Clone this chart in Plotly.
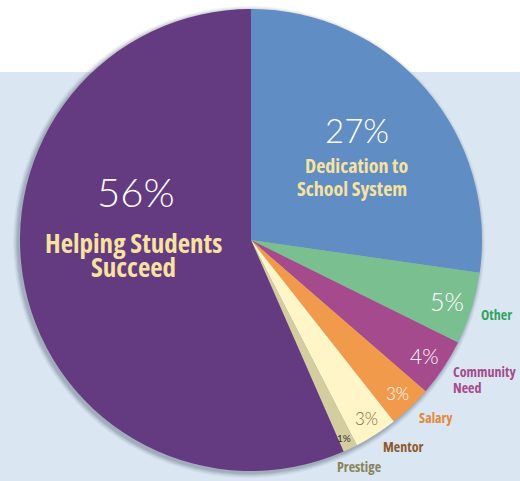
import plotly.graph_objects as go

# Reasons for teaching, share of respondents (%)
categories = ["Dedication to School System", "Other", "Community Need", "Salary",
              "Mentor", "Prestige", "Helping Students Succeed"]
values = [27, 5, 4, 3, 3, 1, 56]
pct_labels = ["27%", "5%", "4%", "3%", "3%", "1%", "56%"]
name_labels = ["Dedication to<br>School System", "Other", "Community<br>Need", "Salary",
               "Mentor", "Prestige", "Helping Students<br>Succeed"]

slice_colors = ["#5f8dc4", "#7abf90", "#a54a8c", "#f29a4b", "#fff5c6", "#d3cd9f", "#643a81"]

W, H = 520, 481
CX, CY, R = 251, 240, 231  # pie centre and radius in pixels


def fx(px):
    return px / W


def fy(py):
    return 1 - py / H


PCT_FONT = "Lato, 'Open Sans', sans-serif"
NAME_FONT = "'Open Sans', 'DejaVu Sans', sans-serif"

fig = go.Figure(go.Pie(
    labels=categories,
    values=values,
    sort=False,
    direction="clockwise",
    rotation=0,
    textinfo="none",
    hoverinfo="label+percent",
    marker=dict(colors=slice_colors, line=dict(width=0)),
    domain=dict(x=[fx(CX - R), fx(CX + R)], y=[fy(CY + R), fy(CY - R)]),
    showlegend=False,
))

shapes = [
    # pale blue panel behind the lower part of the chart
    dict(type="rect", xref="paper", yref="paper", x0=0, x1=1, y0=0, y1=fy(72),
         fillcolor="#dbe6f3", line=dict(width=0), layer="below"),
]
# soft drop shadow under the pie, offset down and to the left
for k, op in [(5, 0.05), (4, 0.06), (3, 0.08), (2, 0.1), (1, 0.12)]:
    ox, oy = -2, 2
    shapes.append(dict(type="circle", xref="paper", yref="paper",
                       x0=fx(CX + ox - R - k), x1=fx(CX + ox + R + k),
                       y0=fy(CY + oy + R + k), y1=fy(CY + oy - R - k),
                       fillcolor=f"rgba(60,70,90,{op})", line=dict(width=0), layer="below"))

annotations = []


def add(text, px, py, size, color, family, weight=None, xanchor="center", narrow=False):
    font = dict(size=size, color=color, family=family)
    if weight is not None:
        font["weight"] = weight
    if narrow:
        text = f"<span style='font-stretch:condensed'>{text}</span>"
    annotations.append(dict(text=text, x=fx(px), y=fy(py), xref="paper", yref="paper",
                            showarrow=False, xanchor=xanchor, yanchor="middle", font=font))


def add_name(idx, px_list, py_list, size, color):
    # one left-anchored annotation per line
    for line, px, py in zip(name_labels[idx].split("<br>"), px_list, py_list):
        add(line, px - 2, py, size, color, NAME_FONT, 700, xanchor="left", narrow=True)


# percentage figures
add(pct_labels[0], 357, 130, 33, "white", PCT_FONT, 300)
add(pct_labels[6], 136, 192, 40, "white", PCT_FONT, 300)
add(pct_labels[1], 447, 301, 25, "white", PCT_FONT, 300)
add(pct_labels[2], 424, 355, 21, "white", PCT_FONT, 300)
add(pct_labels[3], 397, 393, 17, "white", PCT_FONT, 300)
add(pct_labels[4], 366, 418, 17, "#8a6a45", PCT_FONT, 300)
add(pct_labels[5], 344, 438, 10, "#333333", PCT_FONT, 400)

# category names
add_name(0, [305, 297], [165.5, 188.5], 20, "#f7e2a0")
add_name(6, [45, 91], [242, 266], 27, "#f7e2a0")
add_name(1, [481], [314], 14, "#2ea55d")
add_name(2, [453, 453], [371, 387], 14, "#a54a8c")
add_name(3, [419], [417], 14, "#e5883a")
add_name(4, [383], [446], 14, "#8b5a2b")
add_name(5, [337], [466], 14, "#87845a")

fig.update_layout(
    width=W, height=H,
    margin=dict(l=0, r=0, t=0, b=0),
    paper_bgcolor="white",
    plot_bgcolor="white",
    shapes=shapes,
    annotations=annotations,
)

fig.write_html("out.html", config=dict(displayModeBar=False))
